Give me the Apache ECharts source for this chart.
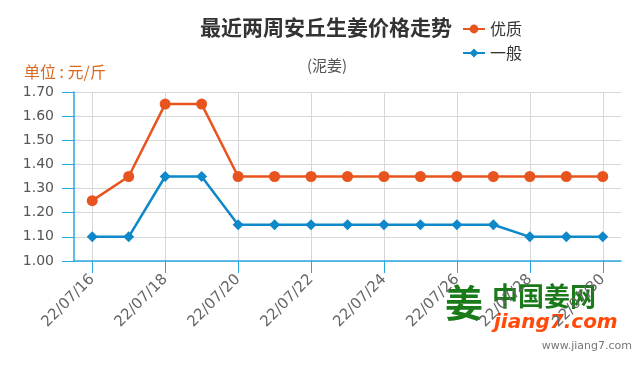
<!DOCTYPE html>
<html><head><meta charset="utf-8">
<script src="https://cdn.jsdelivr.net/npm/echarts@6/dist/echarts.min.js"></script>
<style>html,body{margin:0;padding:0;background:#fff}#c{width:640px;height:370px}</style>
</head><body><div id="c"></div>
<script>
const categories = ['22/07/16','22/07/17','22/07/18','22/07/19','22/07/20','22/07/21','22/07/22','22/07/23','22/07/24','22/07/25','22/07/26','22/07/27','22/07/28','22/07/29','22/07/30'];
const premium = [1.25,1.35,1.65,1.65,1.35,1.35,1.35,1.35,1.35,1.35,1.35,1.35,1.35,1.35,1.35];
const normal = [1.10,1.10,1.35,1.35,1.15,1.15,1.15,1.15,1.15,1.15,1.15,1.15,1.10,1.10,1.10];
const seriesNames = ['优质','一般'];
const font = '"Noto Sans CJK SC","Noto Sans",sans-serif';
const gl = 74, gr = 19;
const band = (640 - gl - gr) / categories.length;
const chart = echarts.init(document.getElementById('c'));
chart.setOption({
  animation:false,
  title:[
    {text:'最近两周安丘生姜价格走势',left:321,top:12,textAlign:'center',textStyle:{fontSize:21,fontWeight:'bold',color:'#333',fontFamily:font}},
    {text:'(泥姜)',left:322,top:53,textAlign:'center',textStyle:{fontSize:15,fontWeight:'normal',color:'#555',fontFamily:font}},
    {text:'单位 : 元/斤',left:19,top:59,textStyle:{fontSize:16,fontWeight:'normal',color:'#d9691f',fontFamily:font}}
  ],
  legend:{orient:'vertical',left:457,top:16,itemGap:8,itemWidth:22,itemHeight:11,
    textStyle:{fontSize:16,color:'#333',fontFamily:font},data:seriesNames},
  grid:[
    {left:gl,right:gr,top:92,bottom:109},
    {left:gl+band/2,right:gr+band/2,top:92,bottom:109}
  ],
  xAxis:[
    {type:'category',gridIndex:0,data:categories,boundaryGap:true,
      axisLine:{lineStyle:{color:'#29a8e0',width:1.5}},
      axisTick:{show:true,alignWithLabel:true,interval:1,length:12,lineStyle:{color:'#29a8e0'}},
      axisLabel:{interval:1,rotate:45,color:'#666',fontSize:15,fontFamily:'"DejaVu Sans",sans-serif',margin:16},
      splitLine:{show:false}},
    {type:'category',gridIndex:1,data:categories,boundaryGap:false,
      axisLine:{show:false},axisTick:{show:false},axisLabel:{show:false},
      splitLine:{show:true,interval:1,lineStyle:{color:'#d8d8d8'}}}
  ],
  yAxis:[
    {type:'value',gridIndex:0,min:1.0,max:1.7,interval:0.1,
      axisLine:{show:true,lineStyle:{color:'#29a8e0',width:1.5}},
      axisTick:{show:true,length:12,lineStyle:{color:'#29a8e0'}},
      axisLabel:{color:'#555',fontSize:14,fontFamily:'"DejaVu Sans",sans-serif',formatter:v=>v.toFixed(2),margin:20},
      splitLine:{show:true,lineStyle:{color:'#d8d8d8'}}},
    {type:'value',gridIndex:1,min:1.0,max:1.7,interval:0.1,show:false,splitLine:{show:false}}
  ],
  series:[
    {name:seriesNames[0],type:'line',xAxisIndex:0,yAxisIndex:0,data:premium,symbol:'circle',symbolSize:11,
      itemStyle:{color:'#e8541e'},lineStyle:{color:'#e8541e',width:2.5}},
    {name:seriesNames[1],type:'line',xAxisIndex:0,yAxisIndex:0,data:normal,symbol:'diamond',symbolSize:11,
      itemStyle:{color:'#0e88c8'},lineStyle:{color:'#0e88c8',width:2.5}}
  ],
  graphic:[
    {type:'text',left:445,top:284,style:{text:'姜',fill:'#1a7a1a',font:'bold 38px "Noto Sans CJK SC"'}},
    {type:'text',left:492,top:283,style:{text:'中国姜网',fill:'#1a7a1a',font:'bold 26px "Noto Sans CJK SC"'}},
    {type:'text',left:494,top:313,style:{text:'jiang7.com',fill:'#ff4a0a',font:'italic bold 20px "DejaVu Sans"'}},
    {type:'text',right:8,top:341,style:{text:'www.jiang7.com',fill:'#777',font:'11px "DejaVu Sans"'}}
  ]
});
</script></body></html>
